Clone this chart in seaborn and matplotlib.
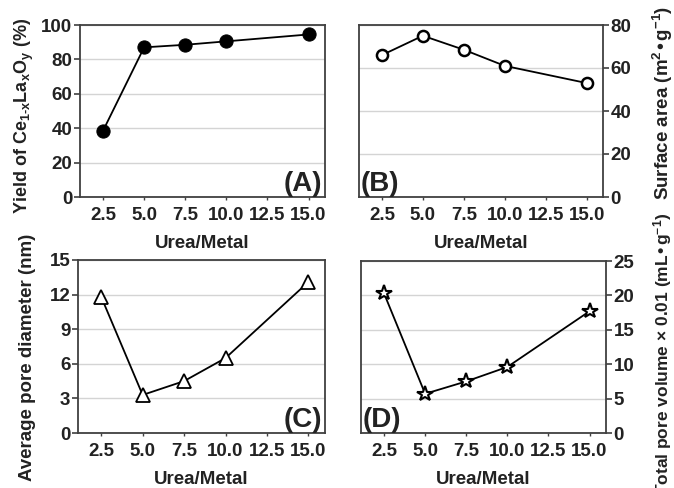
import matplotlib
matplotlib.use("Agg")
import matplotlib.pyplot as plt
import seaborn as sns
import pandas as pd

urea_metal = [2.5, 5.0, 7.5, 10.0, 15.0]
yield_pct = [38.5, 87.0, 88.5, 90.5, 94.5]
surface_area = [66.0, 75.0, 68.5, 61.0, 53.0]
pore_diameter = [11.8, 3.3, 4.5, 6.5, 13.1]
pore_volume = [20.3, 5.7, 7.5, 9.6, 17.7]
x_ticks = [2.5, 5.0, 7.5, 10.0, 12.5, 15.0]

sns.set_theme(style="white")
plt.rcParams["font.family"] = ["Liberation Sans", "DejaVu Sans"]
plt.rcParams["font.weight"] = "bold"
plt.rcParams["mathtext.default"] = "regular"

fig = plt.figure(figsize=(6.74, 4.88), dpi=100)
W, H = 674, 488

def px_axes(l, t, r, b):
    return fig.add_axes([l / W, 1 - b / H, (r - l) / W, (b - t) / H])

axA = px_axes(80, 25, 325, 197)
axB = px_axes(359, 25, 603, 197)
axC = px_axes(78, 260, 325, 433)
axD = px_axes(361, 261, 606, 433)

spine_c = "#404040"
grid_c = "#d4d4d4"
txt_c = "#222222"
TICK_FS = 13.5
LAB_FS = 13.5

def style(ax, ylim, yticks, right=False):
    ax.set_xlim(1.1, 16.0)
    ax.set_ylim(*ylim)
    ax.set_xticks(x_ticks)
    ax.set_xticklabels([f"{v:.1f}" for v in x_ticks])
    ax.set_yticks(yticks)
    ax.set_yticklabels([str(v) for v in yticks])
    for s in ax.spines.values():
        s.set_color(spine_c)
        s.set_linewidth(1.3)
        s.set_visible(True)
    ax.yaxis.grid(True, color=grid_c, linewidth=1.0)
    ax.xaxis.grid(False)
    ax.set_axisbelow(True)
    ax.tick_params(axis="x", length=2.5, width=1.0, color=spine_c, pad=5,
                   labelsize=TICK_FS, labelcolor=txt_c, direction="out", bottom=True)
    ax.tick_params(axis="y", length=4, width=1.2, color=spine_c, pad=1.5,
                   labelsize=TICK_FS, labelcolor=txt_c, direction="out")
    for lab in ax.get_xticklabels() + ax.get_yticklabels():
        lab.set_fontweight("bold")
    if right:
        ax.yaxis.tick_right()
        ax.yaxis.set_label_position("right")
    else:
        ax.yaxis.tick_left()
    ax.set_xlabel("Urea/Metal", fontsize=13.5, fontweight="bold", color=txt_c, labelpad=7.5)

dfA = pd.DataFrame({"x": urea_metal, "y": yield_pct})
dfB = pd.DataFrame({"x": urea_metal, "y": surface_area})
dfC = pd.DataFrame({"x": urea_metal, "y": pore_diameter})
dfD = pd.DataFrame({"x": urea_metal, "y": pore_volume})

sns.lineplot(data=dfA, x="x", y="y", ax=axA, color="black", linewidth=1.3,
             marker="o", markersize=9.5, markerfacecolor="black", markeredgecolor="black")
sns.lineplot(data=dfB, x="x", y="y", ax=axB, color="black", linewidth=1.3,
             marker="o", markersize=8, markerfacecolor="white", markeredgecolor="black",
             markeredgewidth=1.8)
sns.lineplot(data=dfC, x="x", y="y", ax=axC, color="black", linewidth=1.3,
             marker="^", markersize=10, markerfacecolor="white", markeredgecolor="black",
             markeredgewidth=1.3)
sns.lineplot(data=dfD, x="x", y="y", ax=axD, color="black", linewidth=1.3,
             marker="*", markersize=11.5, markerfacecolor="white", markeredgecolor="black",
             markeredgewidth=1.5)

style(axA, (0, 100), [0, 20, 40, 60, 80, 100])
style(axB, (0, 80), [0, 20, 40, 60, 80], right=True)
style(axC, (0, 15), [0, 3, 6, 9, 12, 15])
style(axD, (0, 25), [0, 5, 10, 15, 20, 25], right=True)

axA.set_ylabel("Yield of Ce$_{1\u2010x}$La$_x$O$_y$ (%)", fontsize=13, fontweight="bold", color=txt_c)
axA.yaxis.set_label_coords(-0.178, 0.47)
axC.set_ylabel("Average pore diameter (nm)", fontsize=LAB_FS, fontweight="bold", color=txt_c)
axC.yaxis.set_label_coords(-0.172, 0.44)
axB.set_ylabel("Surface area (m$^2$\u2022g$^{-1}$)", fontsize=LAB_FS, fontweight="bold", color=txt_c,
               rotation=90)
axB.yaxis.set_label_coords(1.195, 0.545)
axD.set_ylabel("Total pore volume \u00d7 0.01 (mL\u2022g$^{-1}$)", fontsize=12.5, fontweight="bold",
               color=txt_c, rotation=90)
axD.yaxis.set_label_coords(1.185, 0.46)

for ax, lab, xpos, ha in [(axA, "(A)", 0.99, "right"), (axB, "(B)", 0.005, "left"),
                          (axC, "(C)", 0.99, "right"), (axD, "(D)", 0.005, "left")]:
    ax.text(xpos, 0.0, lab, transform=ax.transAxes, ha=ha, va="bottom",
            fontsize=20, fontweight="bold", color=txt_c)

fig.savefig("out.png", dpi=100)
